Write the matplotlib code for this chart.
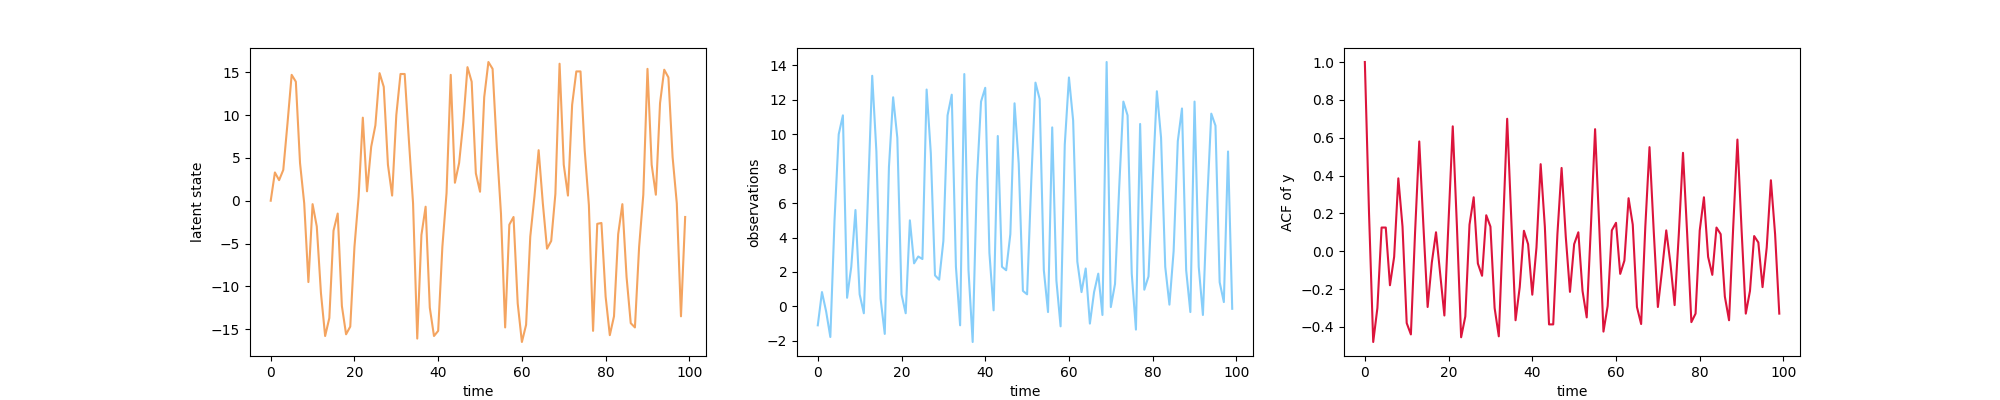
import matplotlib
matplotlib.use("Agg")
import matplotlib.pyplot as plt
import numpy as np

# values, one per time step 0..99
latent_state = [
    0.0, 3.3, 2.4, 3.6, 9.0, 14.7, 13.9, 4.4, -0.3, -9.5,
    -0.4, -3.0, -10.8, -15.8, -13.7, -3.5, -1.5, -12.3, -15.6, -14.7,
    -5.4, 0.5, 9.7, 1.1, 6.3, 8.8, 14.9, 13.3, 4.2, 0.6,
    10.0, 14.8, 14.8, 7.1, -0.3, -16.1, -4.0, -0.7, -12.5, -15.8,
    -15.2, -5.4, 0.9, 14.7, 2.1, 4.4, 9.2, 15.6, 13.9, 3.2,
    1.05, 12.1, 16.2, 15.4, 6.3, -1.5, -14.8, -2.8, -1.9, -12.0,
    -16.5, -14.5, -4.2, 0.5, 5.9, -0.3, -5.6, -4.7, 0.8, 16.0,
    4.2, 0.6, 11.2, 15.1, 15.1, 5.9, -0.5, -15.2, -2.7, -2.6,
    -11.2, -15.7, -13.5, -3.9, -0.4, -8.9, -14.3, -14.8, -5.4, 0.7,
    15.4, 4.2, 0.7, 11.4, 15.3, 14.4, 5.1, -0.3, -13.5, -1.9,
]

observations = [
    -1.1, 0.83, -0.3, -1.78, 5.0, 10.0, 11.1, 0.5, 2.3, 5.6,
    0.7, -0.4, 6.5, 13.4, 9.0, 0.45, -1.6, 8.1, 12.15, 9.8,
    0.7, -0.4, 5.0, 2.5, 2.9, 2.75, 12.6, 8.9, 1.8, 1.55,
    3.8, 11.1, 12.3, 2.3, -1.1, 13.5, 2.1, -2.07, 7.3, 11.9,
    12.7, 3.1, -0.23, 9.9, 2.3, 2.1, 4.2, 11.8, 8.3, 0.9,
    0.7, 7.3, 13.0, 12.05, 2.1, -0.33, 10.4, 1.5, -1.16, 9.4,
    13.3, 10.8, 2.6, 0.83, 2.2, -1.0, 0.83, 1.9, -0.5, 14.2,
    -0.04, 1.3, 6.9, 11.9, 11.1, 1.9, -1.35, 10.6, 0.97, 1.74,
    7.3, 12.5, 9.8, 2.3, 0.1, 3.2, 9.6, 11.5, 2.1, -0.33,
    11.9, 2.3, -0.5, 6.0, 11.2, 10.5, 1.4, 0.25, 9.0, -0.14,
]

acf_y = [
    1.0, 0.2, -0.48, -0.30, 0.125, 0.125, -0.18, -0.03, 0.385, 0.13,
    -0.38, -0.44, 0.1, 0.58, 0.13, -0.295, -0.06, 0.10, -0.12, -0.34,
    0.16, 0.66, 0.13, -0.455, -0.345, 0.14, 0.285, -0.065, -0.13, 0.19,
    0.13, -0.30, -0.45, 0.12, 0.70, 0.16, -0.365, -0.19, 0.108, 0.037,
    -0.23, 0.02, 0.46, 0.13, -0.387, -0.387, 0.09, 0.44, 0.076, -0.215,
    0.037, 0.10, -0.21, -0.35, 0.13, 0.645, 0.13, -0.425, -0.29, 0.11,
    0.15, -0.12, -0.05, 0.28, 0.14, -0.295, -0.385, 0.13, 0.55, 0.11,
    -0.295, -0.10, 0.11, -0.065, -0.285, 0.09, 0.52, 0.09, -0.375, -0.33,
    0.11, 0.285, -0.03, -0.125, 0.125, 0.09, -0.24, -0.365, 0.13, 0.59,
    0.11, -0.33, -0.21, 0.08, 0.046, -0.19, 0.02, 0.375, 0.09, -0.33,
]

time = np.arange(len(latent_state))

fig, axes = plt.subplots(1, 3, figsize=(20, 4), dpi=100)

axes[0].plot(time, latent_state, color='sandybrown')
axes[0].set_xlabel('time')
axes[0].set_ylabel('latent state')

axes[1].plot(time, observations, color='lightskyblue')
axes[1].set_xlabel('time')
axes[1].set_ylabel('observations')

axes[2].plot(time, acf_y, color='crimson')
axes[2].set_xlabel('time')
axes[2].set_ylabel('ACF of y')

plt.savefig('out.png')
